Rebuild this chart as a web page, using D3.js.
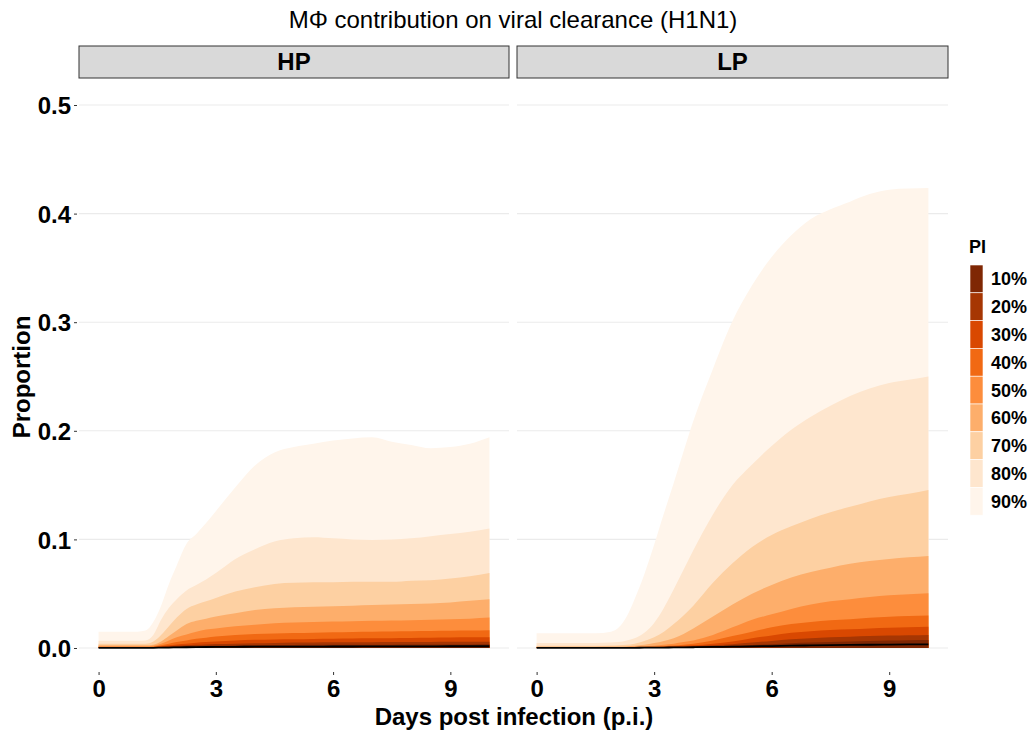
<html>
<head>
<script src="https://d3js.org/d3.v7.min.js"></script>
<style>
  body { margin: 0; background: #fff; font-family: 'Liberation Sans', Arial, sans-serif; }
  .tick text { font-weight: bold; font-size: 24px; fill: #000; }
  .tick line { stroke: #333; }
</style>
</head>
<body>
<svg id="svg" width="1032" height="733"></svg>
<script>
// ---- data ----
var piLabels = ['10%', '20%', '30%', '40%', '50%', '60%', '70%', '80%', '90%'];
var piColors = ['#7f2704', '#a63603', '#d94801', '#f16913', '#fd8d3c', '#fdae6b', '#fdd0a2', '#fee6ce', '#fff5eb'];
var xTicks = [0, 3, 6, 9];
var yTicks = [0, 0.1, 0.2, 0.3, 0.4, 0.5];

var hpDays = [0, 1, 1.2, 1.4, 1.6, 1.8, 2, 2.25, 2.5, 2.75, 3, 3.5, 4, 4.5, 5, 5.5, 6, 6.5, 7, 7.5, 8, 8.5, 9, 9.5, 10];
var hp90 = [0.015,0.015,0.016,0.024,0.039,0.059,0.076,0.096,0.105,0.115,0.126,0.148,0.168,0.180,0.185,0.188,0.191,0.193,0.194,0.190,0.187,0.184,0.185,0.188,0.194];
var hp80 = [0.0067,0.0067,0.007,0.012,0.026,0.037,0.045,0.053,0.058,0.063,0.069,0.082,0.091,0.098,0.101,0.102,0.101,0.100,0.0995,0.100,0.101,0.103,0.105,0.107,0.110];
var hp70 = [0.004,0.004,0.004,0.006,0.012,0.020,0.028,0.036,0.040,0.043,0.046,0.052,0.056,0.059,0.060,0.0605,0.0605,0.061,0.061,0.061,0.062,0.0625,0.064,0.066,0.069];
var hp60 = [0.0025,0.0025,0.0025,0.003,0.006,0.011,0.016,0.022,0.025,0.027,0.029,0.032,0.035,0.0365,0.0375,0.038,0.0385,0.039,0.0395,0.040,0.0405,0.041,0.042,0.0435,0.045];
var hp50 = [0.0015,0.0015,0.0015,0.002,0.004,0.007,0.010,0.0125,0.015,0.017,0.018,0.020,0.0215,0.0228,0.0235,0.024,0.0243,0.0246,0.025,0.0253,0.0256,0.026,0.0265,0.027,0.028];
var hp40 = [0.001,0.001,0.001,0.0012,0.0025,0.004,0.0055,0.007,0.0085,0.0095,0.0105,0.012,0.013,0.0133,0.0137,0.014,0.0145,0.0148,0.015,0.0152,0.0154,0.0156,0.0158,0.016,0.0163];
var hp30 = [0.0008,0.0008,0.0008,0.001,0.0017,0.0025,0.0033,0.004,0.0048,0.0055,0.006,0.007,0.0075,0.0078,0.008,0.0083,0.0085,0.0087,0.0089,0.009,0.0092,0.0094,0.0096,0.0098,0.0099];
var hp20 = [0.0006,0.0006,0.0006,0.0007,0.001,0.0015,0.002,0.0025,0.003,0.0033,0.0036,0.004,0.0044,0.0047,0.005,0.0051,0.0052,0.0053,0.0054,0.0055,0.0056,0.0056,0.0057,0.0058,0.0058];
var hp10 = [0.0004,0.0004,0.0004,0.0005,0.0007,0.0009,0.0012,0.0015,0.0017,0.0019,0.002,0.0023,0.0025,0.0027,0.0028,0.0029,0.003,0.003,0.0031,0.0031,0.0032,0.0032,0.0033,0.0033,0.0034];
var hpMedian = [0.0002,0.0002,0.0002,0.0002,0.0003,0.0004,0.0006,0.0007,0.0008,0.0009,0.001,0.0011,0.0012,0.0012,0.0013,0.0013,0.0014,0.0014,0.0015,0.0015,0.0015,0.0015,0.0016,0.0016,0.0016];

var lpDays = [0, 1, 1.5, 1.9, 2.1, 2.3, 2.5, 2.75, 3, 3.25, 3.5, 3.75, 4, 4.5, 5, 5.5, 6, 6.5, 7, 7.5, 8, 8.5, 9, 9.5, 10];
var lp90 = [0.0135,0.0135,0.0135,0.015,0.019,0.029,0.045,0.068,0.095,0.124,0.152,0.181,0.209,0.257,0.301,0.334,0.360,0.380,0.395,0.404,0.411,0.418,0.422,0.423,0.4235];
var lp80 = [0.0046,0.0046,0.0046,0.005,0.0055,0.007,0.009,0.014,0.023,0.037,0.054,0.072,0.090,0.123,0.150,0.169,0.186,0.201,0.213,0.223,0.232,0.239,0.244,0.247,0.250];
var lp70 = [0.002,0.002,0.002,0.0022,0.0025,0.003,0.004,0.0065,0.010,0.015,0.022,0.030,0.039,0.060,0.078,0.093,0.104,0.112,0.119,0.125,0.130,0.135,0.139,0.142,0.1456];
var lp60 = [0.0012,0.0012,0.0012,0.0013,0.0014,0.0016,0.002,0.003,0.0045,0.0065,0.009,0.013,0.018,0.029,0.040,0.050,0.058,0.065,0.070,0.074,0.0775,0.080,0.082,0.0835,0.0848];
var lp50 = [0.0008,0.0008,0.0008,0.0008,0.0009,0.001,0.0012,0.0015,0.002,0.003,0.004,0.0055,0.007,0.012,0.019,0.026,0.031,0.036,0.040,0.043,0.045,0.047,0.0485,0.0495,0.0504];
var lp40 = [0.0006,0.0006,0.0006,0.0006,0.0006,0.0007,0.0008,0.001,0.0012,0.0016,0.0022,0.003,0.004,0.007,0.011,0.015,0.019,0.022,0.024,0.0255,0.0265,0.0278,0.0287,0.0294,0.030];
var lp30 = [0.0005,0.0005,0.0005,0.0005,0.0005,0.0005,0.0006,0.0007,0.0009,0.0012,0.0015,0.002,0.0025,0.004,0.006,0.009,0.0115,0.014,0.0155,0.0165,0.0172,0.018,0.0187,0.0192,0.0196];
var lp20 = [0.0004,0.0004,0.0004,0.0004,0.0004,0.0004,0.0005,0.0005,0.0006,0.0008,0.001,0.0012,0.0015,0.0025,0.0035,0.005,0.0065,0.008,0.009,0.0098,0.0104,0.011,0.0114,0.0117,0.012];
var lp10 = [0.0003,0.0003,0.0003,0.0003,0.0003,0.0003,0.0003,0.0004,0.0004,0.0005,0.0006,0.0008,0.001,0.0015,0.002,0.0028,0.0035,0.0043,0.005,0.0055,0.006,0.0065,0.0069,0.0072,0.0074];
var lpMedian = [0.0002,0.0002,0.0002,0.0002,0.0002,0.0002,0.0002,0.0003,0.0003,0.0004,0.0005,0.0006,0.0007,0.001,0.0012,0.0015,0.0018,0.0021,0.0024,0.0026,0.0028,0.003,0.0032,0.0033,0.0034];

var panels = [
  {name: 'HP', days: hpDays, bands: [hp10, hp20, hp30, hp40, hp50, hp60, hp70, hp80, hp90], median: hpMedian, left: 79, right: 509},
  {name: 'LP', days: lpDays, bands: [lp10, lp20, lp30, lp40, lp50, lp60, lp70, lp80, lp90], median: lpMedian, left: 517, right: 948}
];

// ---- drawing ----
var svg = d3.select('svg');
var y = d3.scaleLinear().domain([0, 0.5]).range([648, 105]);
var panelBottom = 670;

svg.append('text')
  .attr('x', 513).attr('y', 28)
  .attr('text-anchor', 'middle')
  .style('font-size', '24px')
  .text('M\u03A6 contribution on viral clearance (H1N1)');

panels.forEach(function(p, pi) {
  var pad = (p.right - p.left) * 0.0455;
  var x = d3.scaleLinear().domain([0, 10]).range([p.left + pad, p.right - pad]);
  var g = svg.append('g');

  // grid
  g.selectAll('line.grid').data(yTicks).enter().append('line')
    .attr('x1', p.left).attr('x2', p.right)
    .attr('y1', function(d) { return y(d); }).attr('y2', function(d) { return y(d); })
    .attr('stroke', '#ebebeb').attr('stroke-width', 1.1);

  // bands, widest first
  for (var b = p.bands.length - 1; b >= 0; b--) {
    var area = d3.area()
      .x(function(d, i) { return x(p.days[i]); })
      .y0(y(0))
      .y1(function(d) { return y(d); })
      .curve(d3.curveMonotoneX);
    g.append('path').datum(p.bands[b])
      .attr('d', area)
      .attr('fill', piColors[b]);
  }
  var line = d3.line()
    .x(function(d, i) { return x(p.days[i]); })
    .y(function(d) { return y(d); })
    .curve(d3.curveMonotoneX);
  g.append('path').datum(p.median)
    .attr('d', line).attr('fill', 'none')
    .attr('stroke', '#000').attr('stroke-width', 1.8);

  // strip
  svg.append('rect')
    .attr('x', p.left).attr('y', 46)
    .attr('width', p.right - p.left).attr('height', 32)
    .attr('fill', '#d9d9d9').attr('stroke', '#333').attr('stroke-width', 1);
  svg.append('text')
    .attr('x', (p.left + p.right) / 2).attr('y', 70)
    .attr('text-anchor', 'middle')
    .style('font-size', '24px').style('font-weight', 'bold')
    .text(p.name);

  // x axis
  var xa = svg.append('g').attr('transform', 'translate(0,' + (panelBottom + 2) + ')')
    .call(d3.axisBottom(x).tickValues(xTicks).tickSize(3).tickPadding(5));
  xa.select('.domain').remove();

  if (pi === 0) {
    var ya = svg.append('g').attr('transform', 'translate(' + (p.left - 2) + ',0)')
      .call(d3.axisLeft(y).tickValues(yTicks).tickSize(3).tickPadding(3).tickFormat(d3.format('.1f')));
    ya.select('.domain').remove();
    ya.selectAll('.tick text').attr('dy', '0.36em');
  }
});

// axis titles
svg.append('text')
  .attr('x', 514).attr('y', 725)
  .attr('text-anchor', 'middle')
  .style('font-size', '24px').style('font-weight', 'bold')
  .text('Days post infection (p.i.)');
svg.append('text')
  .attr('transform', 'translate(30,377) rotate(-90)')
  .attr('text-anchor', 'middle')
  .style('font-size', '24px').style('font-weight', 'bold')
  .text('Proportion');

// legend
var lg = svg.append('g').attr('transform', 'translate(969,265)');
lg.append('text').attr('x', 0).attr('y', -12)
  .style('font-size', '18px').style('font-weight', 'bold').text('PI');
var keyH = 27.8;
piLabels.forEach(function(l, i) {
  lg.append('rect').attr('x', 1).attr('y', i * keyH)
    .attr('width', 13).attr('height', keyH)
    .attr('fill', piColors[i]).attr('stroke', '#fff').attr('stroke-width', 0.6);
  lg.append('text').attr('x', 22).attr('y', i * keyH + keyH / 2 + 6.5)
    .style('font-size', '18px').style('font-weight', 'bold').text(l);
});
</script>
</body>
</html>
